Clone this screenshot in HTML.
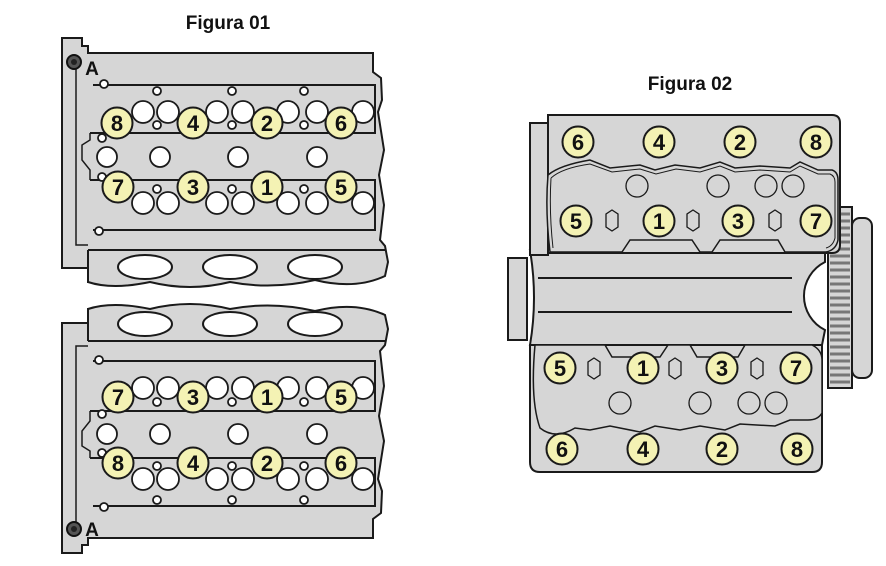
<!DOCTYPE html>
<html><head><meta charset="utf-8"><style>
html,body{margin:0;padding:0;background:#fff;}
svg{display:block;}
text{font-family:"Liberation Sans",Arial,sans-serif;font-weight:bold;}
</style></head><body>
<svg width="886" height="566" viewBox="0 0 886 566" xmlns="http://www.w3.org/2000/svg">
<defs>
<g id="head">
  <path d="M62,38 L82,38 L82,46 L88,46 L88,53 L373,53 L373,72 L381,78 L382,100 L378,112 L384,150 L379,175 L384,205 L380,240 L385,246 L388,262 L385,276 Q355,290 315,280 Q272,290 230,282 Q190,292 150,282 Q112,290 88,282 L88,268 L62,268 Z" fill="#d6d6d6" stroke="#1a1a1a" stroke-width="2"/>
  <line x1="88" y1="250" x2="386" y2="250" stroke="#1a1a1a" stroke-width="2"/>
  <line x1="88" y1="250" x2="88" y2="283" stroke="#1a1a1a" stroke-width="2"/>
  <ellipse cx="145" cy="267" rx="27" ry="12" fill="#fff" stroke="#1a1a1a" stroke-width="2"/>
  <ellipse cx="230" cy="267" rx="27" ry="12" fill="#fff" stroke="#1a1a1a" stroke-width="2"/>
  <ellipse cx="315" cy="267" rx="27" ry="12" fill="#fff" stroke="#1a1a1a" stroke-width="2"/>
  <path d="M76,60 L76,245 L88,245" fill="none" stroke="#1a1a1a" stroke-width="1.5"/>
  <path d="M93,85 L375,85 L375,133 L90,133 M90,180 L375,180 L375,230 L93,230" fill="none" stroke="#1a1a1a" stroke-width="2"/>
  <path d="M90,133 L90,140 L82,145 L82,160 L90,170 L90,180" fill="none" stroke="#1a1a1a" stroke-width="1.5"/>
  <g fill="#fff" stroke="#1a1a1a" stroke-width="1.8">
    <circle cx="143" cy="112" r="11"/><circle cx="168" cy="112" r="11"/><circle cx="217" cy="112" r="11"/><circle cx="243" cy="112" r="11"/><circle cx="288" cy="112" r="11"/><circle cx="317" cy="112" r="11"/><circle cx="363" cy="112" r="11"/>
    <circle cx="143" cy="203" r="11"/><circle cx="168" cy="203" r="11"/><circle cx="217" cy="203" r="11"/><circle cx="243" cy="203" r="11"/><circle cx="288" cy="203" r="11"/><circle cx="317" cy="203" r="11"/><circle cx="363" cy="203" r="11"/>
    <circle cx="107" cy="157" r="10"/><circle cx="160" cy="157" r="10"/><circle cx="238" cy="157" r="10"/><circle cx="317" cy="157" r="10"/>
    <circle cx="157" cy="91" r="4"/><circle cx="232" cy="91" r="4"/><circle cx="304" cy="91" r="4"/>
    <circle cx="157" cy="125" r="4"/><circle cx="232" cy="125" r="4"/><circle cx="304" cy="125" r="4"/>
    <circle cx="157" cy="189" r="4"/><circle cx="232" cy="189" r="4"/><circle cx="304" cy="189" r="4"/>
    <circle cx="104" cy="84" r="4"/><circle cx="102" cy="138" r="4"/><circle cx="102" cy="177" r="4"/><circle cx="99" cy="231" r="4"/>
  </g>
  <circle cx="74" cy="62" r="7" fill="#555" stroke="#111" stroke-width="2"/>
  <circle cx="74" cy="62" r="3" fill="#222"/>
</g>
<g id="nb"><circle r="15.5" fill="#f4f2b4" stroke="#1a1a1a" stroke-width="2"/></g>
</defs>

<text x="228" y="29" font-size="19" text-anchor="middle" fill="#111">Figura 01</text>
<text x="690" y="90" font-size="19" text-anchor="middle" fill="#111">Figura 02</text>

<use href="#head"/>
<g transform="translate(0,591) scale(1,-1)"><use href="#head"/></g>
<text x="92" y="75" font-size="19" text-anchor="middle" fill="#111">A</text>
<text x="92" y="536" font-size="19" text-anchor="middle" fill="#111">A</text>

<g font-size="22" text-anchor="middle" fill="#111">
<use href="#nb" x="117" y="123"/><text x="117" y="131">8</text>
<use href="#nb" x="193" y="123"/><text x="193" y="131">4</text>
<use href="#nb" x="267" y="123"/><text x="267" y="131">2</text>
<use href="#nb" x="341" y="123"/><text x="341" y="131">6</text>
<use href="#nb" x="118" y="187"/><text x="118" y="195">7</text>
<use href="#nb" x="193" y="187"/><text x="193" y="195">3</text>
<use href="#nb" x="267" y="187"/><text x="267" y="195">1</text>
<use href="#nb" x="341" y="187"/><text x="341" y="195">5</text>
<use href="#nb" x="118" y="397"/><text x="118" y="405">7</text>
<use href="#nb" x="193" y="397"/><text x="193" y="405">3</text>
<use href="#nb" x="267" y="397"/><text x="267" y="405">1</text>
<use href="#nb" x="341" y="397"/><text x="341" y="405">5</text>
<use href="#nb" x="118" y="463"/><text x="118" y="471">8</text>
<use href="#nb" x="193" y="463"/><text x="193" y="471">4</text>
<use href="#nb" x="267" y="463"/><text x="267" y="471">2</text>
<use href="#nb" x="341" y="463"/><text x="341" y="471">6</text>
</g>

<!-- Figura 02 -->
<g stroke="#1a1a1a" stroke-width="2">
  <rect x="852" y="218" width="20" height="160" rx="8" fill="#d6d6d6"/>
  <rect x="828" y="207" width="24" height="181" fill="#d6d6d6"/>
  <g stroke="#777" stroke-width="3">
    <path d="M830,214H850M830,221H850M830,228H850M830,235H850M830,242H850M830,249H850M830,256H850M830,263H850M830,270H850M830,277H850M830,284H850M830,291H850M830,298H850M830,305H850M830,312H850M830,319H850M830,326H850M830,333H850M830,340H850M830,347H850M830,354H850M830,361H850M830,368H850M830,375H850M830,382H850"/>
  </g>
  <rect x="508" y="258" width="19" height="82" fill="#d6d6d6"/>
  <path d="M530,250 L825,250 L825,262 A38,38 0 0 0 825,330 L822,345 L530,345 Q538,298 530,250 Z" fill="#d6d6d6"/>
  <line x1="538" y1="278" x2="792" y2="278"/>
  <line x1="538" y1="312" x2="792" y2="312"/>
  <rect x="530" y="123" width="18" height="132" fill="#d6d6d6"/>
  <path d="M548,115 L832,115 Q840,115 840,123 L840,245 Q840,253 832,253 L548,253 Z" fill="#d6d6d6"/>
  <path d="M548,175 Q560,165 590,160 L610,168 L640,165 L655,170 L675,165 L700,168 L720,162 L735,168 L760,166 L790,168 L800,162 L818,170 L832,170 Q838,172 838,180 L838,240 Q836,250 826,252 L785,252 L778,240 L720,240 L712,252 L700,252 L692,240 L630,240 L622,252 L550,252 Q545,210 548,175 Z" fill="#d6d6d6" stroke-width="1.5"/>
  <path d="M551,178 Q562,168 590,164 L612,172 L640,169 L656,174 L676,169 L700,172 L720,166 L735,172 L760,170 L790,172 L800,166 L818,174 L830,174 Q835,176 835,182 L835,238 Q833,246 826,248 M553,248 Q549,212 551,178" fill="none" stroke-width="1"/>
  <path d="M530,345 L822,345 L822,462 Q822,472 812,472 L540,472 Q530,472 530,462 Z" fill="#d6d6d6"/>
  <path d="M535,345 L605,345 L612,357 L660,357 L668,345 L690,345 L697,357 L738,357 L745,345 L812,345 Q822,350 822,360 L822,413 Q818,420 808,420 L790,420 L775,426 L740,424 L725,430 L700,426 L680,430 L655,426 L640,432 L610,426 L590,430 L575,428 Q555,440 540,428 Q530,400 535,345 Z" fill="#d6d6d6" stroke-width="1.5"/>
  <g fill="none" stroke-width="1.3">
    <circle cx="637" cy="186" r="11"/><circle cx="718" cy="186" r="11"/><circle cx="766" cy="186" r="11"/><circle cx="793" cy="186" r="11"/>
    <circle cx="620" cy="403" r="11"/><circle cx="700" cy="403" r="11"/><circle cx="749" cy="403" r="11"/><circle cx="776" cy="403" r="11"/>
    <path d="M612,210 L618,214 L618,227 L612,231 L606,227 L606,214 Z"/>
    <path d="M693,210 L699,214 L699,227 L693,231 L687,227 L687,214 Z"/>
    <path d="M775,210 L781,214 L781,227 L775,231 L769,227 L769,214 Z"/>
    <path d="M594,358 L600,362 L600,375 L594,379 L588,375 L588,362 Z"/>
    <path d="M675,358 L681,362 L681,375 L675,379 L669,375 L669,362 Z"/>
    <path d="M757,358 L763,362 L763,375 L757,379 L751,375 L751,362 Z"/>
  </g>
</g>
<g font-size="22" text-anchor="middle" fill="#111">
<use href="#nb" x="578" y="142"/><text x="578" y="150">6</text>
<use href="#nb" x="659" y="142"/><text x="659" y="150">4</text>
<use href="#nb" x="740" y="142"/><text x="740" y="150">2</text>
<use href="#nb" x="816" y="142"/><text x="816" y="150">8</text>
<use href="#nb" x="576" y="221"/><text x="576" y="229">5</text>
<use href="#nb" x="659" y="221"/><text x="659" y="229">1</text>
<use href="#nb" x="738" y="221"/><text x="738" y="229">3</text>
<use href="#nb" x="816" y="221"/><text x="816" y="229">7</text>
<use href="#nb" x="560" y="368"/><text x="560" y="376">5</text>
<use href="#nb" x="643" y="368"/><text x="643" y="376">1</text>
<use href="#nb" x="722" y="368"/><text x="722" y="376">3</text>
<use href="#nb" x="796" y="368"/><text x="796" y="376">7</text>
<use href="#nb" x="562" y="449"/><text x="562" y="457">6</text>
<use href="#nb" x="643" y="449"/><text x="643" y="457">4</text>
<use href="#nb" x="722" y="449"/><text x="722" y="457">2</text>
<use href="#nb" x="797" y="449"/><text x="797" y="457">8</text>
</g>
</svg>
</body></html>
